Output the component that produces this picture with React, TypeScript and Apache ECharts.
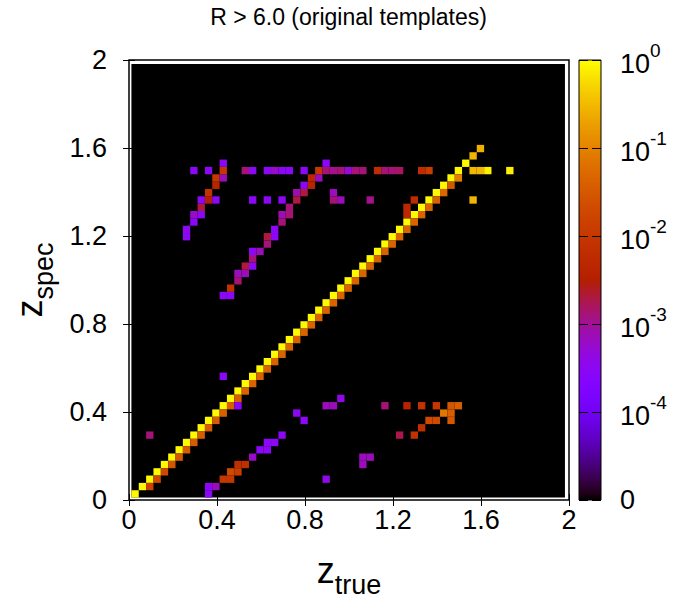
import React, { useEffect, useRef } from "react";
import * as echarts from "echarts";

// ---------------- data ----------------
const TITLE = "R > 6.0 (original templates)";
const X_TICKS = [0, 0.4, 0.8, 1.2, 1.6, 2];
const Y_TICKS = [0, 0.4, 0.8, 1.2, 1.6, 2];
// colour bar: log10 of the cell fraction; the bottom end is labelled "0"
const CB_EXPONENTS = [-5, -4, -3, -2, -1, 0];
const CB_LABELS = ["0", "-4", "-3", "-2", "-1", "0"];

// redshift binning of the 2-D histogram
const BIN_START = 0.011;
const BIN_WIDTH = 0.0334;
const N_BINS = 59;

// cells: [z_true bin, z_spec bin, fraction]
const diagonalPeak: [number, number, number][] = [
  [1, 1, 0.9], [2, 2, 0.9], [3, 3, 0.9], [4, 4, 0.9], [5, 5, 0.9], [6, 6, 0.9],
  [7, 7, 0.9], [8, 8, 0.9], [9, 9, 0.9], [10, 10, 0.9], [11, 11, 0.9], [12, 12, 0.9],
  [13, 13, 0.9], [14, 14, 0.9], [15, 15, 0.9], [16, 16, 0.9], [17, 17, 0.9], [18, 18, 0.9],
  [19, 19, 0.9], [20, 20, 0.9], [21, 21, 0.9], [22, 22, 0.9], [23, 23, 0.9], [24, 24, 0.9],
  [25, 25, 0.9], [26, 26, 0.9], [27, 27, 0.9], [28, 28, 0.9], [29, 29, 0.9], [30, 30, 0.9],
  [31, 31, 0.9], [32, 32, 0.9], [33, 33, 0.9], [34, 34, 0.9], [35, 35, 0.9], [36, 36, 0.9],
  [37, 37, 0.9], [38, 38, 0.9], [39, 39, 0.9], [40, 40, 0.9], [41, 41, 0.9], [42, 42, 0.9],
  [43, 43, 0.9], [44, 44, 0.9], [45, 45, 0.9], [46, 46, 0.9], [47, 47, 0.3], [48, 48, 0.26],
];
const diagonalShoulder: [number, number, number][] = [
  [3, 2, 0.016], [4, 3, 0.02], [5, 4, 0.02], [6, 5, 0.03], [7, 6, 0.03], [8, 7, 0.035],
  [9, 8, 0.035], [10, 9, 0.035], [11, 10, 0.035], [12, 11, 0.035], [13, 12, 0.04], [14, 13, 0.04],
  [15, 14, 0.04], [16, 15, 0.045], [17, 16, 0.045], [18, 17, 0.045], [19, 18, 0.045], [20, 19, 0.045],
  [21, 20, 0.045], [22, 21, 0.045], [23, 22, 0.045], [24, 23, 0.045], [25, 24, 0.045], [26, 25, 0.045],
  [27, 26, 0.045], [28, 27, 0.045], [29, 28, 0.045], [30, 29, 0.045], [31, 30, 0.045], [32, 31, 0.045],
  [33, 32, 0.045], [34, 33, 0.045], [35, 34, 0.045], [36, 35, 0.045], [37, 36, 0.045], [38, 37, 0.045],
  [39, 38, 0.045], [40, 39, 0.045], [41, 40, 0.045], [42, 41, 0.045], [43, 42, 0.05], [44, 43, 0.03],
  [45, 44, 0.09],
];
const lowerBranch: [number, number, number][] = [
  [11, 1, 0.0003], [11, 2, 0.0003], [12, 2, 0.0007], [13, 3, 0.01], [14, 3, 0.01], [14, 4, 0.02],
  [15, 4, 0.013], [15, 5, 0.007], [16, 5, 0.007], [17, 6, 0.0006], [18, 7, 0.0003], [19, 7, 0.0003],
  [19, 8, 0.0003], [20, 8, 0.0003], [21, 9, 0.0003], [24, 11, 0.0003], [23, 12, 0.0003],
  [27, 13, 0.0007], [28, 13, 0.0007], [29, 14, 0.0004],
];
const lowerScatter: [number, number, number][] = [
  [3, 9, 0.0013], [15, 13, 0.0003], [13, 17, 0.0003], [27, 3, 0.0004],
  [32, 5, 0.0007], [32, 6, 0.0007], [33, 6, 0.0007],
];
const lowerRightCluster: [number, number, number][] = [
  [35, 13, 0.0013], [38, 13, 0.004], [40, 13, 0.008], [42, 13, 0.01], [44, 13, 0.03], [45, 13, 0.04],
  [43, 12, 0.08], [44, 12, 0.04], [41, 11, 0.02], [42, 11, 0.02], [44, 11, 0.03], [40, 10, 0.007],
  [37, 9, 0.0018], [39, 9, 0.008],
];
const upperLeftBranch: [number, number, number][] = [
  [8, 36, 0.0003], [8, 37, 0.0003], [9, 38, 0.0003], [9, 39, 0.0006], [10, 39, 0.0003],
  [10, 40, 0.002], [10, 41, 0.0003], [11, 41, 0.003], [12, 41, 0.0003], [11, 42, 0.008],
  [12, 43, 0.004], [12, 44, 0.01], [13, 44, 0.0007], [13, 45, 0.01], [13, 46, 0.0003],
];
const middleBranch: [number, number, number][] = [
  [13, 28, 0.0003], [14, 28, 0.0003], [14, 29, 0.008], [15, 30, 0.0013], [15, 31, 0.0007],
  [16, 31, 0.0007], [16, 32, 0.002], [17, 32, 0.0003], [17, 33, 0.0013], [17, 34, 0.0003],
  [18, 34, 0.0007], [19, 35, 0.0013], [19, 36, 0.002], [20, 36, 0.0003], [20, 37, 0.0003],
  [21, 38, 0.0013], [21, 39, 0.0008], [22, 39, 0.0013], [22, 40, 0.0013], [23, 41, 0.002],
  [23, 42, 0.0008], [24, 42, 0.002], [24, 43, 0.0003], [25, 43, 0.004], [25, 44, 0.005],
  [26, 44, 0.0007], [26, 45, 0.01], [27, 46, 0.0003],
];
const plateauRow: [number, number, number][] = [
  [9, 45, 0.0003], [11, 45, 0.0003], [16, 45, 0.0013], [17, 45, 0.0003], [19, 45, 0.0003],
  [20, 45, 0.0006], [21, 45, 0.0003], [22, 45, 0.0003], [24, 45, 0.0003], [27, 45, 0.0013],
  [28, 45, 0.0011], [29, 45, 0.0013], [30, 45, 0.0005], [31, 45, 0.0013], [32, 45, 0.0013],
  [34, 45, 0.006], [35, 45, 0.0013], [36, 45, 0.0013], [37, 45, 0.0015], [40, 45, 0.006],
  [41, 45, 0.012], [47, 45, 0.3], [48, 45, 0.3], [49, 45, 0.8], [52, 45, 0.8],
];
const upperScatter: [number, number, number][] = [
  [17, 41, 0.0003], [19, 41, 0.0003], [21, 41, 0.0003], [28, 42, 0.0007], [28, 41, 0.0013],
  [29, 41, 0.0007], [33, 41, 0.0011], [39, 41, 0.006], [38, 40, 0.005], [38, 39, 0.005],
  [47, 41, 0.3],
];

// ---------------- helpers ----------------
const FONT = '"Liberation Sans", Arial, Helvetica, sans-serif';
const NARROW = '"Liberation Sans Narrow", "Arial Narrow", "Nimbus Sans Narrow", "Liberation Sans", sans-serif';
const LOG_MIN = CB_EXPONENTS[0];
const LOG_MAX = CB_EXPONENTS[CB_EXPONENTS.length - 1];

// gnuplot rgbformulae 7,5,15
function palette(t: number): string {
  const c = Math.min(1, Math.max(0, t));
  const r = Math.sqrt(c);
  const g = c * c * c;
  const b = Math.max(0, Math.sin(2 * Math.PI * c));
  return `rgb(${Math.round(r * 255)},${Math.round(g * 255)},${Math.round(b * 255)})`;
}
const fracToT = (f: number) =>
  f <= 0 ? 0 : (Math.log10(f) - LOG_MIN) / (LOG_MAX - LOG_MIN);
const binCenter = (idx: number) => BIN_START + (idx - 0.5) * BIN_WIDTH;

const allCells = [
  ...diagonalPeak,
  ...diagonalShoulder,
  ...lowerBranch,
  ...lowerScatter,
  ...lowerRightCluster,
  ...upperLeftBranch,
  ...middleBranch,
  ...plateauRow,
  ...upperScatter,
].map(([i, j, f]) => [binCenter(i), binCenter(j), f]);

const gradientStops = Array.from({ length: 65 }, (_, k) => ({
  offset: k / 64,
  color: palette(k / 64),
}));

const mirrorTick = { show: true, inside: true, length: 6, lineStyle: { color: "#000", width: 1 } };

const subRich = {
  a: { fontSize: 36, lineHeight: 36, verticalAlign: "top", color: "#000", fontFamily: NARROW },
  b: { fontSize: 27, lineHeight: 46, verticalAlign: "bottom", color: "#000", fontFamily: NARROW },
};

function buildOption(): any {
  return {
    animation: false,
    backgroundColor: "#fff",
    textStyle: { fontFamily: FONT },
    title: {
      text: TITLE,
      left: "center",
      top: 0,
      textStyle: { fontSize: 23, fontWeight: "normal", color: "#000", fontFamily: FONT },
    },
    grid: [
      {
        left: 129, top: 60, width: 440, height: 440, show: true,
        borderColor: "#000", borderWidth: 1.5, backgroundColor: "#fff",
      },
      { left: 579, top: 60, width: 22, height: 440 },
    ],
    xAxis: [
      {
        type: "value", gridIndex: 0, min: X_TICKS[0], max: X_TICKS[X_TICKS.length - 1],
        interval: X_TICKS[1] - X_TICKS[0], position: "bottom",
        axisLine: { show: false }, axisTick: mirrorTick, splitLine: { show: false },
        axisLabel: {
          color: "#000", fontSize: 27, margin: 6, fontFamily: NARROW,
          showMinLabel: true, showMaxLabel: true,
        },
        name: "{a|z}{b|true}", nameLocation: "middle", nameGap: 52,
        nameTextStyle: { color: "#000", fontFamily: NARROW, rich: subRich },
      },
      {
        type: "value", gridIndex: 0, min: X_TICKS[0], max: X_TICKS[X_TICKS.length - 1],
        interval: X_TICKS[1] - X_TICKS[0], position: "top",
        axisLine: { show: false }, axisTick: mirrorTick, splitLine: { show: false },
        axisLabel: { show: false },
      },
      { type: "value", gridIndex: 1, min: 0, max: 1, show: false },
    ],
    yAxis: [
      {
        type: "value", gridIndex: 0, min: Y_TICKS[0], max: Y_TICKS[Y_TICKS.length - 1],
        interval: Y_TICKS[1] - Y_TICKS[0], position: "left",
        axisLine: { show: false }, axisTick: mirrorTick, splitLine: { show: false },
        axisLabel: {
          color: "#000", fontSize: 27, margin: 22, fontFamily: NARROW,
          showMinLabel: true, showMaxLabel: true,
        },
        name: "{a|z}{b|spec}", nameLocation: "middle", nameGap: 72,
        nameTextStyle: { color: "#000", fontFamily: NARROW, rich: subRich },
      },
      {
        type: "value", gridIndex: 0, min: Y_TICKS[0], max: Y_TICKS[Y_TICKS.length - 1],
        interval: Y_TICKS[1] - Y_TICKS[0], position: "right",
        axisLine: { show: false }, axisTick: mirrorTick, splitLine: { show: false },
        axisLabel: { show: false },
      },
      {
        type: "value", gridIndex: 1, min: LOG_MIN, max: LOG_MAX, interval: 1,
        position: "right", z: 10,
        axisLine: { show: false }, axisTick: { show: false },
        splitLine: { show: true, lineStyle: { color: "#000", width: 1, type: [9, 4] } },
        axisLabel: {
          margin: 19, color: "#000", fontFamily: NARROW,
          showMinLabel: true, showMaxLabel: true,
          formatter: (v: number) => {
            const k = CB_EXPONENTS.indexOf(Math.round(v));
            if (k === 0) return `{z|${CB_LABELS[k]}}`;
            return `{b|10}{s|${CB_LABELS[k]}}`;
          },
          rich: {
            z: { fontSize: 27, color: "#000", fontFamily: NARROW },
            b: { fontSize: 27, lineHeight: 39, padding: [0, 0, 2, 0], verticalAlign: "bottom", color: "#000", fontFamily: NARROW },
            s: { fontSize: 19, lineHeight: 19, verticalAlign: "top", color: "#000", fontFamily: NARROW },
          },
        },
      },
    ],
    series: [
      {
        type: "custom", name: "background", xAxisIndex: 0, yAxisIndex: 0, silent: true,
        data: [[BIN_START, BIN_START + N_BINS * BIN_WIDTH]],
        renderItem: (_p: any, api: any) => {
          const lo = api.value(0);
          const hi = api.value(1);
          const a = api.coord([lo, hi]);
          const b = api.coord([hi, lo]);
          return {
            type: "rect",
            shape: { x: a[0], y: a[1], width: b[0] - a[0], height: b[1] - a[1] },
            style: { fill: palette(0) },
          };
        },
      },
      {
        type: "custom", name: "cells", xAxisIndex: 0, yAxisIndex: 0, silent: true,
        data: allCells,
        renderItem: (_p: any, api: any) => {
          const x = api.value(0);
          const y = api.value(1);
          const f = api.value(2);
          const a = api.coord([x - BIN_WIDTH / 2, y + BIN_WIDTH / 2]);
          const b = api.coord([x + BIN_WIDTH / 2, y - BIN_WIDTH / 2]);
          return {
            type: "rect",
            shape: { x: a[0], y: a[1], width: b[0] - a[0], height: b[1] - a[1] },
            style: { fill: palette(fracToT(f)) },
          };
        },
      },
      {
        type: "custom", name: "colorbar", xAxisIndex: 2, yAxisIndex: 2, silent: true,
        data: [[0, 1, LOG_MIN, LOG_MAX]],
        renderItem: (_p: any, api: any) => {
          const a = api.coord([api.value(0), api.value(3)]);
          const b = api.coord([api.value(1), api.value(2)]);
          return {
            type: "rect",
            shape: { x: a[0], y: a[1], width: b[0] - a[0], height: b[1] - a[1] },
            style: {
              fill: new echarts.graphic.LinearGradient(0, 1, 0, 0, gradientStops),
              stroke: "#000",
              lineWidth: 1,
            },
          };
        },
      },
    ],
  };
}

export default function App() {
  const ref = useRef<HTMLDivElement>(null);
  useEffect(() => {
    if (!ref.current) return;
    const chart = echarts.init(ref.current, undefined, { renderer: "svg" });
    chart.setOption(buildOption());
    return () => chart.dispose();
  }, []);
  return (
    <div
      ref={ref}
      style={{ position: "fixed", left: 0, top: 0, width: 697, height: 606, background: "#fff" }}
    />
  );
}
